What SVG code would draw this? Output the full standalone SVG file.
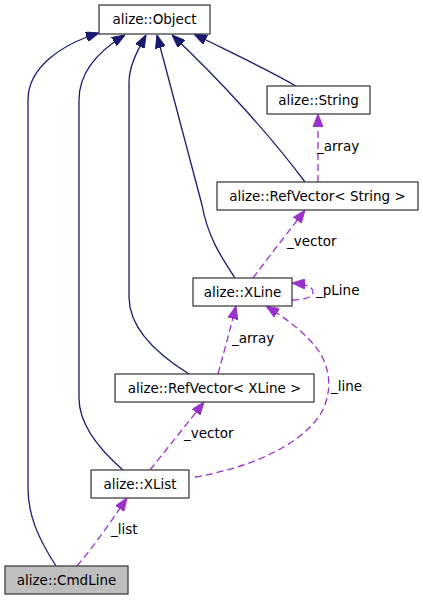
<svg xmlns="http://www.w3.org/2000/svg" width="423" height="600" viewBox="0 0 423 600">
<style>
.box{fill:#ffffff;stroke:#404040;stroke-width:1.3}
.cur{fill:#bfbfbf}
text{font-family:"DejaVu Sans",sans-serif;font-size:13.5px;fill:#000000}
.node text{text-anchor:middle}
.inh{fill:none;stroke:#191970;stroke-width:1.3;marker-end:url(#ah)}
.use{fill:none;stroke:#9a32cd;stroke-width:1.3;stroke-dasharray:7,4;marker-end:url(#ap)}
</style>
<defs>
<marker id="ah" markerUnits="userSpaceOnUse" viewBox="0 0 13 10" refX="13" refY="5" markerWidth="13" markerHeight="10" orient="auto">
<path d="M0,0 L13,5 L0,10 z" fill="#191970" stroke="#191970" stroke-width="1"/>
</marker>
<marker id="ap" markerUnits="userSpaceOnUse" viewBox="0 0 13 10" refX="13" refY="5" markerWidth="13" markerHeight="10" orient="auto">
<path d="M0,0 L13,5 L0,10 z" fill="#9a32cd" stroke="#9a32cd" stroke-width="1"/>
</marker>
</defs>
<rect width="423" height="600" fill="#ffffff"/>
<g id="connectors">
<path class="inh" d="M56,566 C38,538 28,515 28,488 L28,100 C28,68 60,45 99,33"/>
<path class="inh" d="M123,470 C100,450 79,425 79,398 L79,100 C79,70 100,50 125,35"/>
<path class="inh" d="M189,374 C160,356 129,330 129,297 L129,83 C129,65 138,50 146,35"/>
<path class="inh" d="M235,278 C222,258 208,238 202,205 L157,35"/>
<path class="inh" d="M305,182 C270,135 220,80 172,35"/>
<path class="inh" d="M296,86 C265,68 230,52 194,34"/>
<path class="use" d="M318,182 L318,114"/>
<path class="use" d="M253,278 C270,255 290,230 305,210"/>
<path class="use" d="M292,300 C305,300 313,297 313,292 C313,287 306,284 292,283"/>
<path class="use" d="M218,374 C224,352 230,330 236,306"/>
<path class="use" d="M195,477 C250,468 300,445 320,415 C332,395 332,370 318,350 C305,332 285,318 266,306"/>
<path class="use" d="M150,470 C170,445 190,420 204,402"/>
<path class="use" d="M77,566 C95,545 112,520 127,498"/>
<text x="317" y="151">_array</text>
<text x="287" y="246">_vector</text>
<text x="316" y="295">_pLine</text>
<text x="232" y="343">_array</text>
<text x="331" y="391">_line</text>
<text x="184" y="438">_vector</text>
<text x="111" y="534">_list</text>
</g>
<g id="node-object" class="node"><rect class="box" x="99" y="5" width="111" height="29"/><text x="154.5" y="24">alize::Object</text></g>
<g id="node-string" class="node"><rect class="box" x="267" y="86" width="103" height="28"/><text x="318.5" y="105">alize::String</text></g>
<g id="node-refvector-string" class="node"><rect class="box" x="217" y="182" width="201" height="28"/><text x="317.5" y="201">alize::RefVector&lt; String &gt;</text></g>
<g id="node-xline" class="node"><rect class="box" x="193" y="278" width="99" height="28"/><text x="242.5" y="297">alize::XLine</text></g>
<g id="node-refvector-xline" class="node"><rect class="box" x="115" y="374" width="199" height="28"/><text x="214.5" y="393">alize::RefVector&lt; XLine &gt;</text></g>
<g id="node-xlist" class="node"><rect class="box" x="91" y="470" width="98" height="28"/><text x="140" y="489">alize::XList</text></g>
<g id="node-cmdline" class="node"><rect class="box cur" x="5" y="566" width="123" height="28"/><text x="66.5" y="585">alize::CmdLine</text></g>
</svg>
